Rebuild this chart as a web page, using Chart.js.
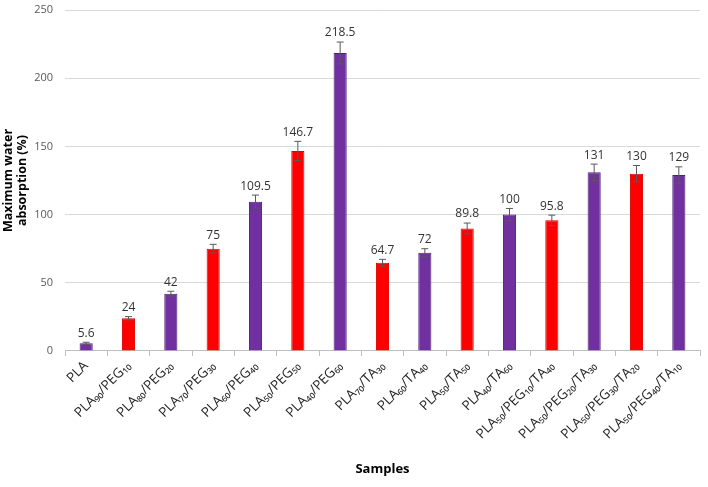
<!DOCTYPE html>
<html>
<head>
<meta charset="utf-8">
<script src="https://cdn.jsdelivr.net/npm/chart.js@4.4.0/dist/chart.umd.min.js"></script>
<style>
  html, body { margin: 0; padding: 0; background: #fff; }
  #wrap { width: 708px; height: 487px; }
</style>
</head>
<body>
<div id="wrap"><canvas id="myChart"></canvas></div>
<script>
var samples = [
  'PLA', 'PLA₉₀/PEG₁₀', 'PLA₈₀/PEG₂₀', 'PLA₇₀/PEG₃₀', 'PLA₆₀/PEG₄₀',
  'PLA₅₀/PEG₅₀', 'PLA₄₀/PEG₆₀', 'PLA₇₀/TA₃₀', 'PLA₆₀/TA₄₀', 'PLA₅₀/TA₅₀',
  'PLA₄₀/TA₆₀', 'PLA₅₀/PEG₁₀/TA₄₀', 'PLA₅₀/PEG₂₀/TA₃₀', 'PLA₅₀/PEG₃₀/TA₂₀', 'PLA₅₀/PEG₄₀/TA₁₀'
];
var absorption = [5.6, 24, 42, 75, 109.5, 146.7, 218.5, 64.7, 72, 89.8, 100, 95.8, 131, 130, 129];
var errors = [0.8, 1.2, 1.8, 3.2, 4.8, 7, 8, 2.5, 3, 4, 4.5, 3.8, 6, 6, 6];
var barColors = ['#7030A0', '#FF0000', '#7030A0', '#FF0000', '#7030A0', '#FF0000', '#7030A0',
  '#FF0000', '#7030A0', '#FF0000', '#7030A0', '#FF0000', '#7030A0', '#FF0000', '#7030A0'];
var yTicks = [0, 50, 100, 150, 200, 250];

var fontFam = "'Open Sans', 'DejaVu Sans', sans-serif";

// error bars + value labels
var extras = {
  id: 'extras',
  afterDatasetsDraw: function (chart) {
    var c = chart.ctx;
    var y = chart.scales.y;
    var meta = chart.getDatasetMeta(0);
    c.save();
    for (var i = 0; i < meta.data.length; i++) {
      var x = meta.data[i].x;
      var top = y.getPixelForValue(absorption[i] + errors[i]);
      var bot = y.getPixelForValue(absorption[i] - errors[i]);
      c.strokeStyle = '#595959';
      c.lineWidth = 1;
      c.beginPath();
      c.moveTo(x, top); c.lineTo(x, bot);
      c.moveTo(x - 3.5, top); c.lineTo(x + 3.5, top);
      c.moveTo(x - 3.5, bot); c.lineTo(x + 3.5, bot);
      c.stroke();
      c.fillStyle = '#333';
      c.font = '12px ' + fontFam;
      c.textAlign = 'center';
      c.textBaseline = 'bottom';
      c.fillText(String(absorption[i]), x, top - 3);
    }
    c.restore();
  }
};

var ctx = document.getElementById('myChart');
new Chart(ctx, {
  type: 'bar',
  data: {
    labels: samples,
    datasets: [{
      data: absorption,
      backgroundColor: barColors,
      borderColor: barColors.map(function (col) { return col === '#7030A0' ? '#4f1f78' : '#e00000'; }),
      borderWidth: 1,
      categoryPercentage: 1,
      barPercentage: 0.31
    }]
  },
  plugins: [extras],
  options: {
    responsive: true,
    maintainAspectRatio: false,
    animation: false,
    layout: { padding: { top: 10, right: 8, left: 2, bottom: 6 } },
    plugins: {
      legend: { display: false },
      tooltip: { enabled: false }
    },
    scales: {
      x: {
        grid: { display: true, drawOnChartArea: false, offset: true, color: '#bfbfbf', tickLength: 5 },
        border: { color: '#bfbfbf' },
        ticks: {
          color: '#262626',
          maxRotation: 45,
          minRotation: 45,
          padding: 2,
          font: { family: fontFam, size: 13.5 }
        },
        title: {
          display: true,
          text: 'Samples',
          color: '#000',
          font: { family: fontFam, size: 13, weight: 'bold' },
          padding: { top: 17 }
        }
      },
      y: {
        min: 0,
        max: 250,
        afterBuildTicks: function (axis) {
          axis.ticks = yTicks.map(function (v) { return { value: v }; });
        },
        afterFit: function (axis) {
          axis.width = 63;
          axis.paddingTop = 0;
        },
        grid: { color: '#d9d9d9', drawTicks: false },
        border: { display: false },
        ticks: {
          color: '#595959',
          padding: 12,
          font: { family: fontFam, size: 11 }
        },
        title: {
          display: true,
          text: ['Maximum water', 'absorption (%)'],
          color: '#000',
          font: { family: fontFam, size: 12.5, weight: 'bold', lineHeight: 1.08 },
          padding: { top: 0, bottom: 0 }
        }
      }
    }
  }
});
</script>
</body>
</html>
